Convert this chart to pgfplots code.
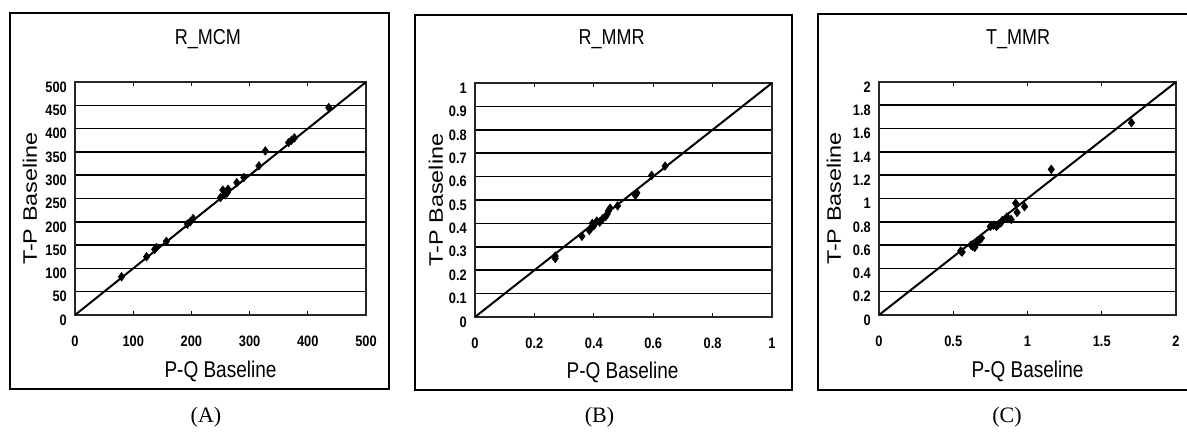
\documentclass[border=0pt]{standalone}
\usepackage{fontspec}
\setmainfont{Liberation Sans}
\newfontfamily\capfont{Liberation Serif}
\usepackage{pgfplots}
\pgfplotsset{compat=1.18}

\pgfplotstableread{
x y
80 82
123 125
137 141
140 145
157 158
193 195
198 200
203 207
250 252
254 268
258 258
262 263
263 270
278 284
290 295
316 320
327 352
367 370
372 375
377 380
436 445
}\dataA

\pgfplotstableread{
x y
0.27 0.25
0.27 0.26
0.36 0.345
0.385 0.37
0.39 0.38
0.395 0.40
0.40 0.39
0.41 0.41
0.42 0.405
0.43 0.42
0.44 0.43
0.445 0.44
0.45 0.455
0.455 0.465
0.48 0.475
0.54 0.52
0.545 0.53
0.595 0.605
0.64 0.645
}\dataB

\pgfplotstableread{
x y
0.55 0.55
0.56 0.54
0.62 0.60
0.63 0.59
0.645 0.58
0.66 0.62
0.68 0.65
0.69 0.66
0.75 0.76
0.77 0.77
0.79 0.76
0.80 0.77
0.82 0.79
0.83 0.81
0.86 0.84
0.87 0.83
0.89 0.82
0.93 0.88
0.92 0.96
0.98 0.93
1.16 1.25
1.70 1.65
}\dataC

\newcommand\talltext[1]{\scalebox{1}[1.2]{#1}}
\newcommand\longtext[1]{\scalebox{1.2}[1]{#1}}

\pgfplotsset{
  panel/.style={
    scale only axis,
    anchor=south west,
    axis line style={black!85, line width=1.2pt},
    ymajorgrids,
    grid style={black, line width=1.6pt},
    tick align=inside,
    major tick length=4pt,
    xtick style={black, line width=0.9pt},
    ytick style={draw=none},
    /pgf/number format/assume math mode=true,
    tick label style={font=\bfseries\fontsize{13.5}{15}\selectfont, inner sep=0pt},
    xticklabel={\scalebox{0.95}[1.12]{\pgfmathprintnumber{\tick}}},
    yticklabel={\scalebox{0.95}[1.12]{\pgfmathprintnumber{\tick}}},
    xticklabel style={anchor=north, yshift=-21pt},
    yticklabel style={anchor=east, xshift=-8pt, yshift=-5pt},
    title style={font=\fontsize{18}{21}\selectfont, anchor=base},
    xlabel style={font=\fontsize{19}{22}\selectfont, anchor=base},
    ylabel style={font=\fontsize{19.5}{22}\selectfont, anchor=base},
    xlabel={\talltext{P-Q Baseline}},
    ylabel={\longtext{T-P Baseline}},
  },
  pts/.style={only marks, mark=diamond*, mark size=4.4pt, black},
  diag/.style={black, line width=2pt, no marks},
}

\begin{document}
\begin{tikzpicture}
\useasboundingbox (0pt,0pt) rectangle (1187pt,434pt);
\fill[white] (0pt,0pt) rectangle (1187pt,434pt);

% frames
\draw[black, line width=1.3pt] (10pt,45pt) rectangle (389pt,421pt);
\draw[black, line width=1.3pt] (415pt,44pt) rectangle (792pt,419pt);
\draw[black, line width=1.3pt] (1188pt,420pt) -- (818pt,420pt) -- (818pt,44pt) -- (1188pt,44pt);

% (A)
\begin{axis}[panel,
  at={(75pt,119pt)}, width=291pt, height=233pt,
  xmin=0, xmax=500, ymin=0, ymax=500,
  xtick={0,100,...,500}, ytick={0,50,...,500},
  title={\talltext{R\_MCM}},
  title style={at={(rel axis cs:0.457,1.137)}},
  xlabel style={at={(rel axis cs:0.5,-0.270)}},
  ylabel style={at={(rel axis cs:-0.1306,0.5)}},
]
\addplot[diag] coordinates {(0,0) (500,500)};
\addplot[pts] table {\dataA};
\end{axis}

% (B)
\begin{axis}[panel,
  at={(475pt,117pt)}, width=297pt, height=234pt,
  xmin=0, xmax=1, ymin=0, ymax=1,
  xtick={0,0.2,0.4,0.6,0.8,1}, ytick={0,0.1,...,1.01},
  title={\talltext{R\_MMR}},
  title style={at={(rel axis cs:0.46,1.138)}},
  xlabel style={at={(rel axis cs:0.497,-0.261)}},
  ylabel style={at={(rel axis cs:-0.108,0.5)}},
]
\addplot[diag] coordinates {(0,0) (1,1)};
\addplot[pts] table {\dataB};
\end{axis}

% (C)
\begin{axis}[panel,
  at={(879pt,119pt)}, width=297pt, height=233pt,
  xmin=0, xmax=2, ymin=0, ymax=2,
  xtick={0,0.5,1,1.5,2}, ytick={0,0.2,...,2.01},
  title={\talltext{T\_MMR}},
  title style={at={(rel axis cs:0.468,1.137)}},
  xlabel style={at={(rel axis cs:0.5,-0.270)}},
  ylabel style={at={(rel axis cs:-0.128,0.5)}},
]
\addplot[diag] coordinates {(0,0) (2,2)};
\addplot[pts] table {\dataC};
\end{axis}

\node[font=\capfont\fontsize{22}{26}\selectfont, anchor=base] at (206pt,11pt) {(A)};
\node[font=\capfont\fontsize{22}{26}\selectfont, anchor=base] at (599.5pt,11pt) {(B)};
\node[font=\capfont\fontsize{22}{26}\selectfont, anchor=base] at (1007pt,11pt) {(C)};
\end{tikzpicture}
\end{document}
